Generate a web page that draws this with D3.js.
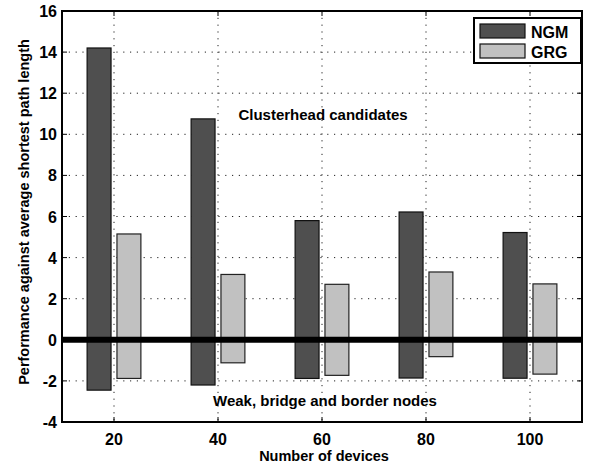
<!DOCTYPE html>
<html><head><meta charset="utf-8">
<script src="https://cdn.jsdelivr.net/npm/d3@7"></script>
<style>body{margin:0;background:#fff}text{font-family:"Liberation Sans",Arial,sans-serif;font-weight:bold}</style>
</head><body><svg id="c" width="590" height="470"></svg>
<script>
const devices = [20, 40, 60, 80, 100];
const series = ["NGM", "GRG"];
const ngmPos = [14.2, 10.75, 5.8, 6.22, 5.22];
const ngmNeg = [-2.45, -2.2, -1.88, -1.86, -1.87];
const grgPos = [5.15, 3.18, 2.7, 3.3, 2.72];
const grgNeg = [-1.88, -1.12, -1.73, -0.82, -1.67];
const xTicks = [20, 40, 60, 80, 100];
const yTicks = [-4, -2, 0, 2, 4, 6, 8, 10, 12, 14, 16];
const colors = {NGM: "#4f4f4f", GRG: "#c1c1c1"};

const svg = d3.select("#c");
const L = 62, R = 582, T = 11, B = 422;
const x = d3.scaleLinear().domain([10, 110]).range([L, R]);
const y = d3.scaleLinear().domain([-4, 16]).range([B, T]);

// grid
const g = svg.append("g");
g.selectAll(".gx").data(xTicks).join("line")
  .attr("x1", d => x(d)).attr("x2", d => x(d)).attr("y1", T).attr("y2", B)
  .attr("stroke", "#222").attr("stroke-width", 1).attr("stroke-dasharray", "1.2,5.6");
g.selectAll(".gy").data(yTicks.filter(d => d > -4 && d < 16)).join("line")
  .attr("x1", L).attr("x2", R).attr("y1", d => y(d)).attr("y2", d => y(d))
  .attr("stroke", "#222").attr("stroke-width", 1).attr("stroke-dasharray", "1.2,5.6");

// bars
const bw = 4.6;
const rows = [];
devices.forEach((d, i) => {
  rows.push({s: "NGM", d, lo: ngmNeg[i], hi: ngmPos[i]});
  rows.push({s: "GRG", d, lo: grgNeg[i], hi: grgPos[i]});
});
const center = s => (s === "NGM" ? -2.87 : 2.87);
svg.append("g").selectAll("rect").data(rows).join("rect")
  .attr("x", r => x(r.d + center(r.s) - bw / 2))
  .attr("width", r => x(r.d + center(r.s) + bw / 2) - x(r.d + center(r.s) - bw / 2))
  .attr("y", r => y(r.hi))
  .attr("height", r => y(r.lo) - y(r.hi))
  .attr("fill", r => colors[r.s])
  .attr("stroke", r => r.s === "NGM" ? "#111" : "#222")
  .attr("stroke-width", 1.2);

// zero line
svg.append("line").attr("x1", L).attr("x2", R).attr("y1", y(0)).attr("y2", y(0))
  .attr("stroke", "#000").attr("stroke-width", 6);

// axes frame and ticks
svg.append("rect").attr("x", L).attr("y", T).attr("width", R - L).attr("height", B - T)
  .attr("fill", "none").attr("stroke", "#000").attr("stroke-width", 2);
const ax = svg.append("g");
const tl = 5;
ax.selectAll(".tb").data(xTicks).join("line")
  .attr("x1", d => x(d)).attr("x2", d => x(d)).attr("y1", B).attr("y2", B - tl).attr("stroke", "#000");
ax.selectAll(".tt").data(xTicks).join("line")
  .attr("x1", d => x(d)).attr("x2", d => x(d)).attr("y1", T).attr("y2", T + tl).attr("stroke", "#000");
ax.selectAll(".tl").data(yTicks).join("line")
  .attr("x1", L).attr("x2", L + tl).attr("y1", d => y(d)).attr("y2", d => y(d)).attr("stroke", "#000");
ax.selectAll(".tr").data(yTicks).join("line")
  .attr("x1", R).attr("x2", R - tl).attr("y1", d => y(d)).attr("y2", d => y(d)).attr("stroke", "#000");

ax.selectAll(".xl").data(xTicks).join("text")
  .attr("x", d => x(d)).attr("y", 445).attr("text-anchor", "middle")
  .attr("font-size", 16).text(d => d);
ax.selectAll(".yl").data(yTicks).join("text")
  .attr("x", 57).attr("y", d => y(d) + 6).attr("text-anchor", "end")
  .attr("font-size", 16).text(d => d);

svg.append("text").attr("x", 324).attr("y", 461).attr("text-anchor", "middle")
  .attr("font-size", 14.5).text("Number of devices");
svg.append("text").attr("transform", "translate(29,212) rotate(-90)").attr("text-anchor", "middle")
  .attr("font-size", 14.5).text("Performance against average shortest path length");

svg.append("text").attr("x", 323).attr("y", 120).attr("text-anchor", "middle")
  .attr("font-size", 15).text("Clusterhead candidates");
svg.append("text").attr("x", 325).attr("y", 406).attr("text-anchor", "middle")
  .attr("font-size", 15).text("Weak, bridge and border nodes");

// legend
const lg = svg.append("g");
lg.append("rect").attr("x", 474).attr("y", 18).attr("width", 107).attr("height", 45)
  .attr("fill", "#fff").attr("stroke", "#000").attr("stroke-width", 2);
series.forEach((s, i) => {
  lg.append("rect").attr("x", 480).attr("y", 24 + i * 20).attr("width", 45).attr("height", 14)
    .attr("fill", colors[s]).attr("stroke", "#111").attr("stroke-width", 1.2);
  lg.append("text").attr("x", 531).attr("y", 37.5 + i * 20).attr("font-size", 16).text(s);
});
</script></body></html>
